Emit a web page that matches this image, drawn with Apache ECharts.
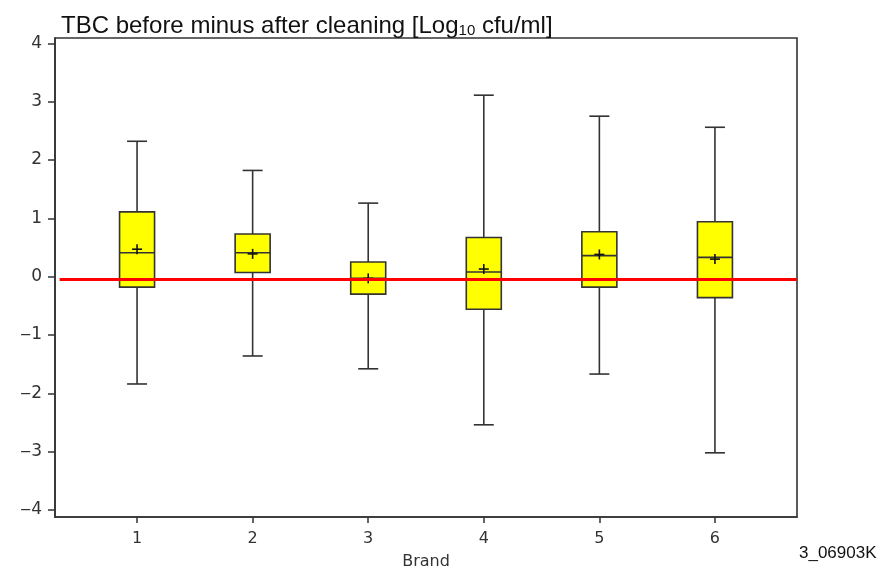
<!DOCTYPE html>
<html>
<head>
<meta charset="utf-8">
<script src="https://cdn.jsdelivr.net/npm/echarts@6/dist/echarts.min.js"></script>
<style>
  html, body { margin: 0; padding: 0; background: #fff; }
  #chart { width: 885px; height: 572px; }
</style>
</head>
<body>
<div id="chart"></div>
<script>
const brands = [1, 2, 3, 4, 5, 6];
const whiskerLow = [-1.84, -1.36, -1.58, -2.54, -1.67, -3.02];
const q1 = [-0.18, 0.07, -0.30, -0.56, -0.18, -0.36];
const median = [0.41, 0.41, -0.03, 0.08, 0.36, 0.33];
const q3 = [1.11, 0.73, 0.25, 0.67, 0.77, 0.94];
const whiskerHigh = [2.32, 1.82, 1.26, 3.11, 2.75, 2.56];
const means = [0.47, 0.39, -0.03, 0.13, 0.38, 0.30];
const yTicks = [-4, -3, -2, -1, 0, 1, 2, 3, 4];
const refLevel = -0.05;
const refRange = [0.33, 6.71];

const chart = echarts.init(document.getElementById('chart'));

const boxData = brands.map((b, i) => [b, whiskerLow[i], q1[i], median[i], q3[i], whiskerHigh[i], means[i]]);

function renderBox(params, api) {
  const x = api.value(0);
  const pLow = api.coord([x, api.value(1)]);
  const pQ1 = api.coord([x, api.value(2)]);
  const pMed = api.coord([x, api.value(3)]);
  const pQ3 = api.coord([x, api.value(4)]);
  const pHigh = api.coord([x, api.value(5)]);
  const pMean = api.coord([x, api.value(6)]);
  const cx = pQ1[0];
  const halfBox = 17.5;
  const halfCap = 10;
  const line = { stroke: '#333', lineWidth: 1.6 };
  return {
    type: 'group',
    children: [
      { type: 'line', shape: { x1: cx, y1: pHigh[1], x2: cx, y2: pQ3[1] }, style: line },
      { type: 'line', shape: { x1: cx, y1: pQ1[1], x2: cx, y2: pLow[1] }, style: line },
      { type: 'line', shape: { x1: cx - halfCap, y1: pHigh[1], x2: cx + halfCap, y2: pHigh[1] }, style: line },
      { type: 'line', shape: { x1: cx - halfCap, y1: pLow[1], x2: cx + halfCap, y2: pLow[1] }, style: line },
      { type: 'rect', shape: { x: cx - halfBox, y: pQ3[1], width: halfBox * 2, height: pQ1[1] - pQ3[1] },
        style: { fill: '#ffff00', stroke: '#333', lineWidth: 1.6 } },
      { type: 'line', shape: { x1: cx - halfBox, y1: pMed[1], x2: cx + halfBox, y2: pMed[1] }, style: line },
      { type: 'line', shape: { x1: cx - 5, y1: pMean[1], x2: cx + 5, y2: pMean[1] }, style: { stroke: '#111', lineWidth: 1.6 } },
      { type: 'line', shape: { x1: cx, y1: pMean[1] - 5, x2: cx, y2: pMean[1] + 5 }, style: { stroke: '#111', lineWidth: 1.6 } }
    ]
  };
}

chart.setOption({
  animation: false,
  textStyle: { fontFamily: 'Liberation Sans, Arial, sans-serif' },
  title: {
    text: 'TBC before minus after cleaning [Log{sub|10} cfu/ml]',
    left: 56,
    top: 9,
    textStyle: {
      fontSize: 24,
      fontWeight: 'normal',
      color: '#111',
      rich: { sub: { fontSize: 15, verticalAlign: 'bottom', padding: [9, 0, 0, 0], color: '#111' } }
    }
  },
  grid: {
    left: 55, top: 38, right: 88, bottom: 55,
    outerBoundsMode: 'none',
    containLabel: false,
    show: true, borderColor: '#333', borderWidth: 1.6, backgroundColor: '#fff'
  },
  xAxis: {
    type: 'value',
    min: 0.29,
    max: 6.71,
    name: 'Brand',
    nameLocation: 'middle',
    nameGap: 37,
    nameTextStyle: { fontSize: 16, color: '#333', fontFamily: 'DejaVu Sans' },
    splitLine: { show: false },
    axisLine: { show: true, onZero: false, lineStyle: { color: '#333', width: 1.6 } },
    axisTick: { show: true, length: 6, customValues: brands, lineStyle: { color: '#333', width: 1.5 } },
    axisLabel: { customValues: brands, fontSize: 16, color: '#333', margin: 14, fontFamily: 'DejaVu Sans' }
  },
  yAxis: {
    type: 'value',
    min: -4.12,
    max: 4.09,
    splitLine: { show: false },
    axisLine: { show: true, onZero: false, lineStyle: { color: '#333', width: 1.6 } },
    axisTick: { show: true, length: 7, customValues: yTicks, lineStyle: { color: '#333', width: 1.5 } },
    axisLabel: {
      customValues: yTicks,
      fontSize: 17,
      color: '#333',
      margin: 13,
      fontFamily: 'DejaVu Sans',
      formatter: v => String(v).replace('-', '\u2012')
    }
  },
  graphic: [{
    type: 'text',
    left: 799,
    top: 545,
    style: { text: '3_06903K', fontSize: 17, fill: '#111', fontFamily: 'Liberation Sans, Arial, sans-serif' }
  }],
  series: [
    {
      type: 'custom',
      renderItem: renderBox,
      data: boxData,
      encode: { x: 0, y: [1, 5] },
      z: 2
    },
    {
      type: 'line',
      data: [[refRange[0], refLevel], [refRange[1], refLevel]],
      symbol: 'none',
      lineStyle: { color: '#ff0000', width: 3 },
      z: 3
    }
  ]
});
</script>
</body>
</html>
